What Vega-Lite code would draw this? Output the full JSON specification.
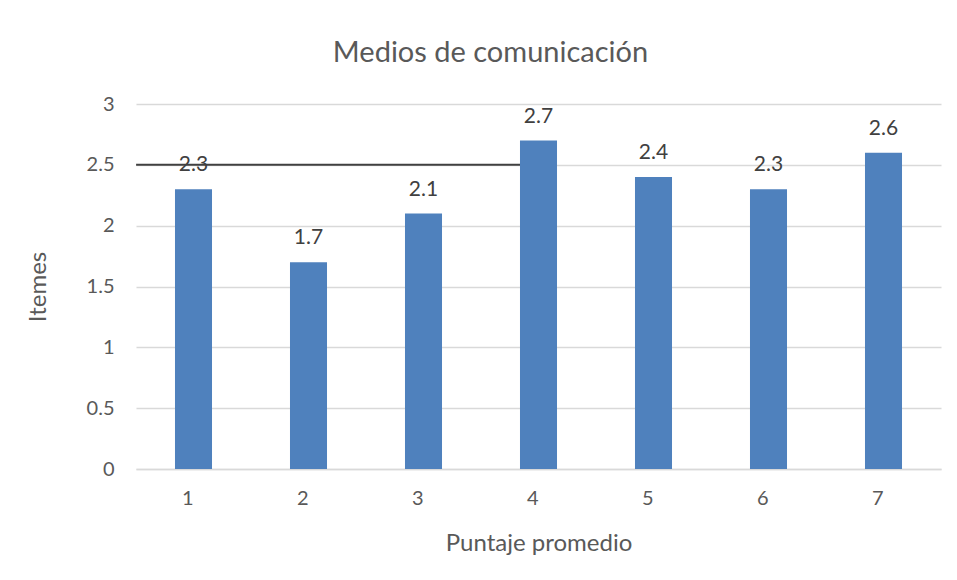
{
  "$schema": "https://vega.github.io/schema/vega-lite/v6.json",
  "width": 805,
  "height": 365,
  "autosize": {"type": "none"},
  "padding": {"left": 136, "top": 104, "right": 16, "bottom": 111},
  "background": "white",
  "title": {
    "text": "Medios de comunicación",
    "font": "Lato",
    "fontSize": 29,
    "fontWeight": "normal",
    "color": "#595959",
    "anchor": "middle",
    "offset": 26,
    "dx": -48
  },
  "config": {
    "view": {"stroke": null},
    "axis": {
      "labelFont": "Lato",
      "titleFont": "Lato",
      "labelColor": "#595959",
      "titleColor": "#595959",
      "labelFontSize": 20,
      "titleFontSize": 24,
      "titleFontWeight": "normal",
      "ticks": false
    }
  },
  "layer": [
    {
      "data": {"values": [{"desde": "1", "hasta": "4", "nivel": 2.5}]},
      "mark": {"type": "rule", "color": "#404040", "strokeWidth": 2},
      "encoding": {
        "x": {"field": "desde", "type": "ordinal", "bandPosition": -1.05, "scale": {"type": "band", "paddingInner": 0.678, "paddingOuter": 0.339}, "title": "Puntaje promedio"},
        "x2": {"field": "hasta", "bandPosition": 0.5},
        "y": {"field": "nivel", "type": "quantitative", "scale": {"domain": [0, 3]}, "title": "Itemes"}
      }
    },
    {
      "data": {
        "values": [
          {"p": "1", "v": 2.3},
          {"p": "2", "v": 1.7},
          {"p": "3", "v": 2.1},
          {"p": "4", "v": 2.7},
          {"p": "5", "v": 2.4},
          {"p": "6", "v": 2.3},
          {"p": "7", "v": 2.6}
        ]
      },
      "encoding": {
        "x": {
          "field": "p",
          "type": "ordinal",
          "scale": {"type": "band", "paddingInner": 0.678, "paddingOuter": 0.339},
          "title": "Puntaje promedio",
          "axis": {"labelAngle": 0, "labelPadding": 29, "domainColor": "#d9d9d9", "domainWidth": 1.5, "titlePadding": 23}
        },
        "y": {
          "field": "v",
          "type": "quantitative",
          "scale": {"domain": [0, 3]},
          "title": "Itemes",
          "axis": {"values": [0, 0.5, 1, 1.5, 2, 2.5, 3], "format": "~g", "domain": false, "gridColor": "#d9d9d9", "gridWidth": 1.5, "labelPadding": 22, "titlePadding": 36}
        }
      },
      "layer": [
        {"mark": {"type": "bar", "color": "#4f81bd"}},
        {
          "mark": {"type": "text", "baseline": "bottom", "dy": -14, "font": "Lato", "fontSize": 21, "color": "#404040"},
          "encoding": {"text": {"field": "v", "type": "quantitative", "format": ".1f"}}
        }
      ]
    }
  ]
}
